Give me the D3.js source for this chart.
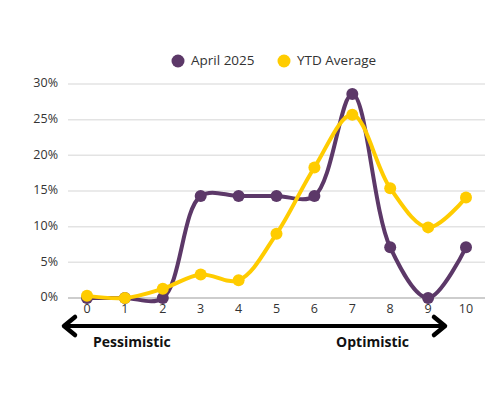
<!DOCTYPE html>
<html>
<head>
<meta charset="utf-8">
<script src="https://cdn.jsdelivr.net/npm/d3@7"></script>
<style>
body { margin: 0; background: #fff; }
text { font-family: "Open Sans", "Lato", sans-serif; }
</style>
</head>
<body>
<script>
var scores = [0, 1, 2, 3, 4, 5, 6, 7, 8, 9, 10];
var april = [0, 0, 0, 14.3, 14.3, 14.3, 14.3, 28.6, 7.1, 0, 7.1];
var ytd = [0.3, 0, 1.3, 3.3, 2.5, 9.0, 18.3, 25.7, 15.4, 9.9, 14.1];
var yTicks = [0, 5, 10, 15, 20, 25, 30];
var seriesNames = ["April 2025", "YTD Average"];
var colors = ["#5c3868", "#ffcc00"];
var endLabels = ["Pessimistic", "Optimistic"];

var svg = d3.select("body").append("svg").attr("width", 500).attr("height", 400);

var x = d3.scaleLinear().domain([0, 10]).range([87, 466]);
var y = d3.scaleLinear().domain([0, 30]).range([298, 84]);

// gridlines
svg.selectAll("line.grid")
.data(yTicks)
.enter().append("line")
	.attr("class", "grid")
	.attr("x1", 68).attr("x2", 485)
	.attr("y1", function(d){ return y(d); })
	.attr("y2", function(d){ return y(d); })
	.attr("stroke", function(d){ return d === 0 ? "#bdbdbd" : "#e3e3e3"; })
	.attr("stroke-width", 1.5);

// y labels
svg.selectAll("text.ylab")
.data(yTicks)
.enter().append("text")
	.attr("class", "ylab")
	.attr("x", 58)
	.attr("y", function(d){ return y(d); })
	.attr("text-anchor", "end")
	.attr("dominant-baseline", "middle")
	.attr("font-size", 12.5)
	.attr("fill", "#333")
	.text(function(d){ return d + "%"; });

// x labels
svg.selectAll("text.xlab")
.data(scores)
.enter().append("text")
	.attr("class", "xlab")
	.attr("x", function(d){ return x(d); })
	.attr("y", 310)
	.attr("text-anchor", "middle")
	.attr("dominant-baseline", "middle")
	.attr("font-size", 12.5)
	.attr("fill", "#333")
	.text(function(d){ return d; });

var line = d3.line()
	.x(function(d, i){ return x(scores[i]); })
	.y(function(d){ return y(d); })
	.curve(d3.curveCatmullRom.alpha(0.5));

var series = [april, ytd];
// purple first, yellow drawn over it
[0, 1].forEach(function(k) {
	svg.append("path")
		.datum(series[k])
		.attr("d", line)
		.attr("fill", "none")
		.attr("stroke", colors[k])
		.attr("stroke-width", 4)
		.attr("stroke-linejoin", "round");
	svg.selectAll("circle.s" + k)
	.data(series[k])
	.enter().append("circle")
		.attr("class", "s" + k)
		.attr("cx", function(d, i){ return x(scores[i]); })
		.attr("cy", function(d){ return y(d); })
		.attr("r", 6)
		.attr("fill", colors[k]);
});

// legend
var legX = [178, 284];
seriesNames.forEach(function(name, k) {
	svg.append("circle")
		.attr("cx", legX[k]).attr("cy", 61).attr("r", 6.5)
		.attr("fill", colors[k]);
	svg.append("text")
		.attr("x", legX[k] + 13).attr("y", 61)
		.attr("dominant-baseline", "middle")
		.attr("font-size", 13.5)
		.attr("fill", "#333")
		.text(name);
});

// arrow
svg.append("line")
	.attr("x1", 64).attr("x2", 445)
	.attr("y1", 326).attr("y2", 326)
	.attr("stroke", "#000").attr("stroke-width", 4);
svg.append("path")
	.attr("d", "M75,317 L64,326 L75,335")
	.attr("fill", "none").attr("stroke", "#000").attr("stroke-width", 4.5)
	.attr("stroke-linecap", "round").attr("stroke-linejoin", "round");
svg.append("path")
	.attr("d", "M434,317 L445,326 L434,335")
	.attr("fill", "none").attr("stroke", "#000").attr("stroke-width", 4.5)
	.attr("stroke-linecap", "round").attr("stroke-linejoin", "round");

svg.selectAll("text.end")
.data(endLabels)
.enter().append("text")
	.attr("class", "end")
	.attr("x", function(d, i){ return i === 0 ? 93 : 409; })
	.attr("y", 343)
	.attr("text-anchor", function(d, i){ return i === 0 ? "start" : "end"; })
	.attr("dominant-baseline", "middle")
	.attr("font-size", 14)
	.attr("font-weight", "bold")
	.attr("fill", "#111")
	.text(function(d){ return d; });
</script>
</body>
</html>
